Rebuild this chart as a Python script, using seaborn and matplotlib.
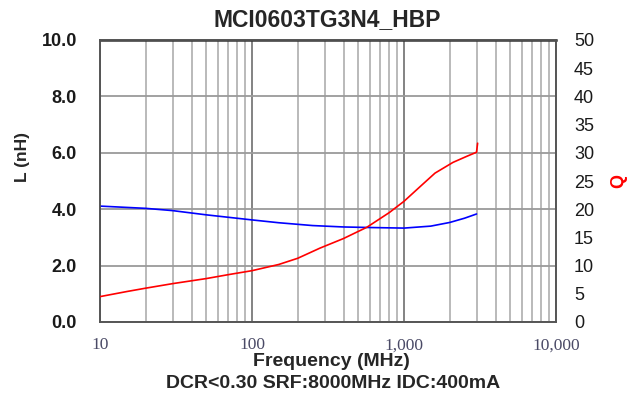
import matplotlib
matplotlib.use("Agg")
import matplotlib.pyplot as plt
import matplotlib.ticker as mticker
import seaborn as sns
import pandas as pd
import numpy as np

# ---- data ----
freq_L = [10, 20, 30, 50, 100, 150, 250, 400, 600, 1000, 1500, 2000, 2500, 3000]
L_nH = [4.11, 4.03, 3.95, 3.80, 3.62, 3.52, 3.42, 3.37, 3.35, 3.33, 3.40, 3.53, 3.68, 3.83]

freq_Q = [10, 15, 20, 30, 50, 70, 100, 150, 200, 280, 400, 570, 800, 1000,
          1300, 1600, 2100, 2600, 3000, 3050]
Q_val = [4.5, 5.4, 6.0, 6.8, 7.7, 8.4, 9.1, 10.2, 11.3, 13.1, 14.8, 16.8, 19.4, 21.4,
         24.2, 26.4, 28.3, 29.4, 30.1, 31.7]

title = "MCI0603TG3N4_HBP"
xlabel = "Frequency (MHz)"
subtitle = "DCR<0.30 SRF:8000MHz IDC:400mA"
x_ticks = [10, 100, 1000, 10000]
x_ticklabels = ["10", "100", "1,000", "10,000"]
L_ticks = [0, 2, 4, 6, 8, 10]
Q_ticks = list(range(0, 55, 5))

sns.set_theme(style="white")
plt.rcParams['font.family'] = ['Liberation Sans', 'DejaVu Sans']

fig = plt.figure(figsize=(6.38, 3.97), dpi=100)
ax = fig.add_axes([100/638, 1-322/397, 456/638, 282/397])
ax2 = ax.twinx()

dfL = pd.DataFrame({"f": freq_L, "L": L_nH})
dfQ = pd.DataFrame({"f": freq_Q, "Q": Q_val})

sns.lineplot(data=dfL, x="f", y="L", ax=ax, color="#0000ff", linewidth=1.2, zorder=5)
sns.lineplot(data=dfQ, x="f", y="Q", ax=ax2, color="#ff0000", linewidth=1.2, zorder=5)

ax.set_xscale("log")
ax.set_xlim(10, 10000)
ax.set_ylim(0, 10)
ax2.set_ylim(0, 50)

# grid
ax.xaxis.set_major_locator(mticker.FixedLocator(x_ticks))
ax.xaxis.set_minor_locator(mticker.LogLocator(base=10, subs=np.arange(2, 10)))
ax.xaxis.set_minor_formatter(mticker.NullFormatter())
ax.set_xticklabels(x_ticklabels)
ax.grid(which="minor", axis="x", color="#b4b4b4", linewidth=1.3)
ax.grid(which="major", axis="x", color="#7a7a7a", linewidth=1.3)
ax.set_yticks(L_ticks)
ax.set_yticklabels([f"{v:.1f}" for v in L_ticks])
ax.grid(which="major", axis="y", color="#9a9a9a", linewidth=1.3)
ax2.set_yticks(Q_ticks)
ax2.grid(False)
ax.set_axisbelow(True)

for a in (ax, ax2):
    for s in a.spines.values():
        s.set_color("#555555")
        s.set_linewidth(1.2)
ax.spines["top"].set_color("#333333")
ax.spines["top"].set_linewidth(1.8)

ax.tick_params(axis="x", which="major", direction="out", length=5, width=1, color="#777777",
               pad=6, labelsize=12.5, labelcolor="#4a4a66")
ax.tick_params(axis="x", which="minor", length=0)
for lab in ax.get_xticklabels():
    lab.set_family(["Liberation Serif", "DejaVu Serif"])
ax.tick_params(axis="y", length=0, pad=16.5, labelsize=13, labelcolor="#1a1a1a")
for lab in ax.get_yticklabels():
    lab.set_fontweight("bold")
ax2.tick_params(axis="y", length=0, pad=13, labelsize=13, labelcolor="#1a1a1a")

ax.set_xlabel("")
ax.set_ylabel("")
ax2.set_ylabel("")

fig.text(327/638, 1-20/397, title, ha="center", va="center", fontsize=16.5, fontweight="bold")
fig.text(331/638, 1-362/397, xlabel, ha="center", va="center", fontsize=14, fontweight="bold")
fig.text(333/638, 1-383/397, subtitle, ha="center", va="center", fontsize=14, fontweight="bold")
fig.text(22/638, 1-157/397, "L (nH)", ha="center", va="center", rotation=90,
         fontsize=12.5, fontweight="bold")
fig.text(619/638, 1-181/397, "Q", ha="center", va="center", rotation=90,
         fontsize=13, fontweight="bold", color="#ff0000")

fig.savefig("out.png", dpi=100)
